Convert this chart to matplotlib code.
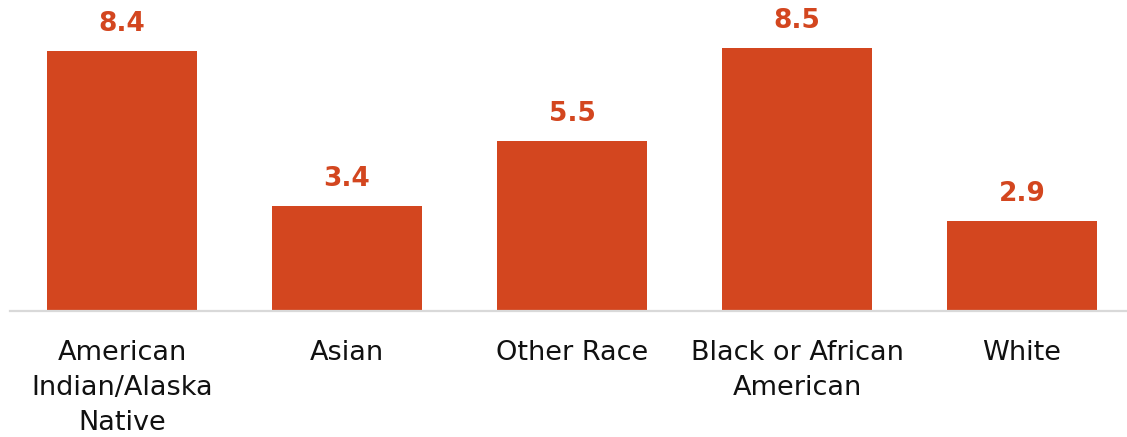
import matplotlib.pyplot as plt

categories = ['American\nIndian/Alaska\nNative', 'Asian', 'Other Race',
              'Black or African\nAmerican', 'White']
values = [8.4, 3.4, 5.5, 8.5, 2.9]

orange = '#D3461F'

fig = plt.figure(figsize=(11.27, 4.37), dpi=100)
ax = fig.add_axes([10 / 1127, 126 / 437, 1 - 10 / 1127, 0.672])

x = range(len(values))
bars = ax.bar(x, values, width=0.667, color=orange, zorder=2)

for xi, v in zip(x, values):
    ax.annotate(f'{v:.1f}', (xi, v), xytext=(0, 14.5), textcoords='offset points',
                ha='center', va='baseline', fontsize=19, fontweight='bold',
                color=orange, annotation_clip=False)

ax.set_xlim(-0.498, 4.467)
ax.set_ylim(0, 9.5)
ax.set_xticks(list(x))
ax.set_xticklabels(categories, fontsize=19.5, color='#111111', linespacing=1.45)
ax.tick_params(axis='x', length=0, pad=21)
ax.set_yticks([])

for side in ['top', 'right', 'left']:
    ax.spines[side].set_visible(False)
ax.spines['bottom'].set_color('#d9d9d9')
ax.spines['bottom'].set_linewidth(1.6)

fig.savefig('out.png', dpi=100)
